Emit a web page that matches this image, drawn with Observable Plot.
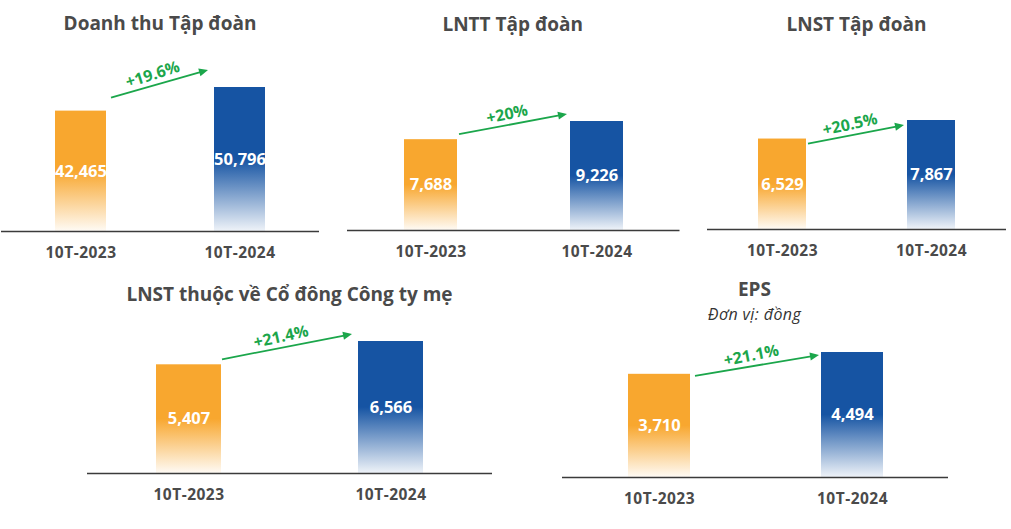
<!DOCTYPE html>
<html><head><meta charset="utf-8">
<script src="https://cdn.jsdelivr.net/npm/d3@7"></script>
<script src="https://cdn.jsdelivr.net/npm/@observablehq/plot@0.6"></script>
<style>
body{margin:0;background:#fff;}
#wrap{position:relative;width:1011px;height:529px;overflow:hidden;font-family:"Open Sans",sans-serif;background:#fff;}
.title{position:absolute;transform:translateX(-50%);white-space:nowrap;font-weight:700;font-size:19px;color:#4a4a4a;line-height:20px;z-index:2;}
.sub{position:absolute;transform:translateX(-50%);white-space:nowrap;font-style:italic;font-size:16px;letter-spacing:0.4px;color:#333;line-height:18px;z-index:2;}
#wrap svg g[aria-label="x-axis tick label"] text{letter-spacing:0.5px;}
</style></head><body><div id="wrap"></div>
<script>
// ---- data ----
const periods = ["10T-2023", "10T-2024"];
const titles = ["Doanh thu Tập đoàn", "LNTT Tập đoàn", "LNST Tập đoàn", "LNST thuộc về Cổ đông Công ty mẹ", "EPS"];
const subtitles = ["", "", "", "", "Đơn vị: đồng"];
const revenue = [42465, 50796];
const profitBeforeTax = [7688, 9226];
const profitAfterTax = [6529, 7867];
const profitParent = [5407, 6566];
const eps = [3710, 4494];
const growthLabels = ["+19.6%", "+20%", "+20.5%", "+21.4%", "+21.1%"];
const seriesList = [revenue, profitBeforeTax, profitAfterTax, profitParent, eps];

// ---- layout (pixels) ----
const layout = [
  {left: 1,     right: 319,    top: 87,  base: 231, titleY: 24,  gap: [5, 6], lift: [13, 17]},
  {left: 346.5, right: 679,    top: 121, base: 230, titleY: 25,  gap: [2, 3], lift: [5, 7]},
  {left: 707,   right: 1006,   top: 120, base: 229, titleY: 25,  gap: [2, 3], lift: [-5, -5]},
  {left: 87,    right: 492,    top: 341, base: 473, titleY: 295, gap: [1, 6], lift: [5, 7]},
  {left: 561.5, right: 947.5,  top: 352, base: 477, titleY: 289.5, subY: 314.5, gap: [5, 2], lift: [-2, -3]}
];
const barColors = ["#F8A72F", "#1654A3"];
const green = "#1BA64B";
const fmt = d3.format(",");
const wrap = document.getElementById("wrap");

layout.forEach((L, k) => {
  const vals = seriesList[k];
  const data = periods.map((p, i) => ({period: p, value: vals[i], tone: i}));
  const mt = 48, mb = 44;
  const svgTop = L.top - mt;
  const height = L.base - svgTop + mb;
  const width = L.right - L.left;
  const gid = "grad" + k;

  const defs = () => {
    const g = d3.create("svg:defs");
    barColors.forEach((c, i) => {
      const lg = g.append("linearGradient").attr("id", `${gid}-${i}`)
        .attr("x1", 0).attr("y1", 0).attr("x2", 0).attr("y2", 1);
      lg.append("stop").attr("offset", "0%").attr("stop-color", c);
      lg.append("stop").attr("offset", "50%").attr("stop-color", c);
      lg.append("stop").attr("offset", "100%").attr("stop-color", c).attr("stop-opacity", i ? 0.07 : 0.05);
    });
    return g.node();
  };

  const arrow = (index, scales) => {
    const x = scales.x, y = scales.y, bw = x.bandwidth();
    const x1 = x(periods[0]) + bw + L.gap[0], y1 = y(vals[0]) - L.lift[0];
    const x2 = x(periods[1]) - L.gap[1], y2 = y(vals[1]) - L.lift[1];
    const dx = x2 - x1, dy = y2 - y1, len = Math.hypot(dx, dy);
    const ux = dx / len, uy = dy / len, nx = uy, ny = -ux;
    const hl = 9, hw = 4;
    const bx = x2 - ux * hl, by = y2 - uy * hl;
    const g = d3.create("svg:g");
    g.append("line").attr("x1", x1).attr("y1", y1).attr("x2", bx + ux).attr("y2", by + uy)
      .attr("stroke", green).attr("stroke-width", 1.8);
    g.append("path")
      .attr("d", `M${x2},${y2}L${bx + nx * hw},${by + ny * hw}L${bx - nx * hw},${by - ny * hw}Z`)
      .attr("fill", green);
    const mx = (x1 + x2) / 2 + nx * 11.5 - ux * 4;
    const my = (y1 + y2) / 2 + ny * 11.5 - uy * 4;
    const ang = Math.atan2(dy, dx) * 180 / Math.PI - 1.5;
    g.append("text").attr("transform", `translate(${mx},${my}) rotate(${ang})`)
      .attr("text-anchor", "middle").attr("dominant-baseline", "central")
      .attr("fill", green).attr("font-size", 16).attr("font-weight", 700)
      .text(growthLabels[k]);
    return g.node();
  };

  const chart = Plot.plot({
    width, height,
    marginTop: mt, marginBottom: mb, marginLeft: 0, marginRight: 0,
    style: {background: "transparent", color: "#4a4a4a", fontFamily: "'Open Sans', sans-serif", overflow: "visible"},
    x: {type: "band", domain: periods, paddingInner: 0.68, paddingOuter: 0.34, label: null},
    y: {domain: [0, d3.max(vals)], axis: null},
    color: {type: "identity"},
    marks: [
      defs,
      Plot.barY(data, {x: "period", y: "value", fill: d => `url(#${gid}-${d.tone})`, inset: 0}),
      Plot.text(data, {x: "period", y: d => d.value / 2, text: d => fmt(d.value), fill: "white", fontSize: 16.5, fontWeight: 700}),
      Plot.ruleY([0], {stroke: "#3b3b3b", strokeWidth: 1.6}),
      Plot.axisX({tickSize: 0, tickPadding: 15, fontSize: 15.5, fontWeight: 700, label: null}),
      arrow
    ]
  });
  chart.style.position = "absolute";
  chart.style.left = L.left + "px";
  chart.style.top = svgTop + "px";
  wrap.appendChild(chart);

  const t = document.createElement("div");
  t.className = "title";
  t.textContent = titles[k];
  t.style.left = ((L.left + L.right) / 2) + "px";
  t.style.top = (L.titleY - 10.6) + "px";
  wrap.appendChild(t);
  if (subtitles[k]) {
    const s = document.createElement("div");
    s.className = "sub";
    s.textContent = subtitles[k];
    s.style.left = ((L.left + L.right) / 2) + "px";
    s.style.top = (L.subY - 9.3) + "px";
    wrap.appendChild(s);
  }
});
</script></body></html>
